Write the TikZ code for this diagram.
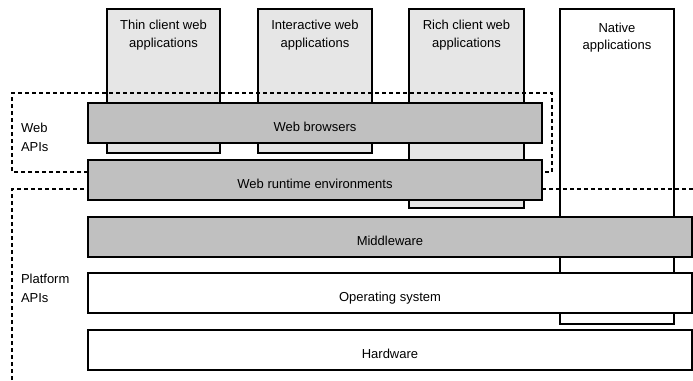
\documentclass[tikz,border=0pt]{standalone}
\usepackage{fontspec}
\setmainfont{Liberation Sans}
\usetikzlibrary{calc}
\definecolor{appfill}{HTML}{E6E6E6}
\definecolor{barfill}{HTML}{C0C0C0}
\begin{document}
\begin{tikzpicture}[x=1pt,y=-1pt,
  every node/.style={inner sep=0pt, outer sep=0pt},
  box/.style={draw=black, line width=1.3pt, anchor=north west},
  appbox/.style={box, fill=appfill},
  nativebox/.style={box, fill=white},
  barbox/.style={box, fill=barfill},
  plainbar/.style={box, fill=white},
  txt/.style={font=\fontsize{13}{16}\selectfont, anchor=base},
  sidetxt/.style={font=\fontsize{13}{16}\selectfont, anchor=base west},
  region/.style={draw=black, line width=1.3pt, dash pattern=on 4pt off 3pt}
]
\useasboundingbox (0,0) rectangle (693,380);

% application columns
\node[appbox, minimum width=113pt, minimum height=144pt] (thin) at (107,9) {};
\node[appbox, minimum width=114pt, minimum height=144pt] (inter) at (258,9) {};
\node[appbox, minimum width=115pt, minimum height=199pt] (rich) at (409,9) {};
\node[nativebox, minimum width=114pt, minimum height=315pt] (native) at (560,9) {};

% API regions (partly hidden behind the layer bars)
\draw[region] (88,172) -- (12,172) -- (12,93) -- (552,93) -- (552,172) -- (542,172);
\draw[region] (12,380) -- (12,189) -- (693,189);

% layer bars
\node[barbox, minimum width=454pt, minimum height=40pt] (browsers) at (88,103) {};
\node[barbox, minimum width=454pt, minimum height=40pt] (runtime) at (88,160) {};
\node[barbox, minimum width=604pt, minimum height=40pt] (middleware) at (88,217) {};
\node[plainbar, minimum width=604pt, minimum height=40pt] (os) at (88,273) {};
\node[plainbar, minimum width=604pt, minimum height=40pt] (hardware) at (88,330) {};

% column labels
\node[txt] (thinA) at ($(thin.north)+(0,20)$) {Thin client web};
\node[txt] (thinB) at ($(thin.north)+(0,38.5)$) {applications};
\node[txt] (interA) at ($(inter.north)+(0,20)$) {Interactive web};
\node[txt] (interB) at ($(inter.north)+(0,38.5)$) {applications};
\node[txt] (richA) at ($(rich.north)+(0,20)$) {Rich client web};
\node[txt] (richB) at ($(rich.north)+(0,38.5)$) {applications};
\node[txt] (nativeA) at ($(native.north)+(0,23)$) {Native};
\node[txt] (nativeB) at ($(native.north)+(0,40.5)$) {applications};

% bar labels
\node[txt] (browsersT) at ($(browsers.center)+(0,8)$) {Web browsers};
\node[txt] (runtimeT) at ($(runtime.center)+(0,8)$) {Web runtime environments};
\node[txt] (middlewareT) at ($(middleware.center)+(0,8)$) {Middleware};
\node[txt] (osT) at ($(os.center)+(0,8)$) {Operating system};
\node[txt] (hardwareT) at ($(hardware.center)+(0,8)$) {Hardware};

% region labels
\node[sidetxt] (webA) at (21,132) {Web};
\node[sidetxt] (webB) at (21,151) {APIs};
\node[sidetxt] (platA) at (21,283.5) {Platform};
\node[sidetxt] (platB) at (21,302.5) {APIs};
\end{tikzpicture}
\end{document}
